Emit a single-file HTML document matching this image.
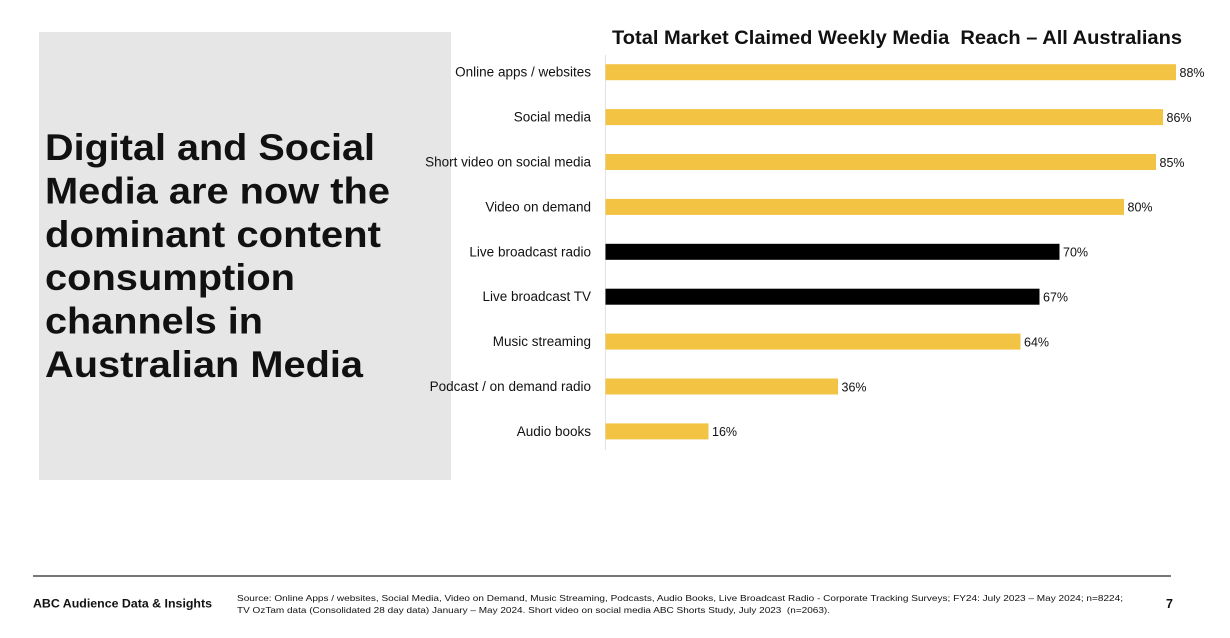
<!DOCTYPE html>
<html>
<head>
<meta charset="utf-8">
<style>
  html, body { margin: 0; padding: 0; background: #ffffff; }
  body { width: 1230px; height: 638px; overflow: hidden; }
  svg { display: block; }
  text { font-family: "Liberation Sans", Arial, sans-serif; fill: #111; }
</style>
</head>
<body>
<svg width="1230" height="638" viewBox="0 0 1230 638" xmlns="http://www.w3.org/2000/svg">
  <rect x="0" y="0" width="1230" height="638" fill="#ffffff"/>

  <!-- Left grey panel -->
  <rect x="39" y="32" width="412" height="448" fill="#e6e6e6"/>
  <g font-weight="bold" font-size="37">
    <text x="45" y="160" textLength="330" lengthAdjust="spacingAndGlyphs">Digital and Social</text>
    <text x="45" y="203.4" textLength="345" lengthAdjust="spacingAndGlyphs">Media are now the</text>
    <text x="45" y="246.8" textLength="336" lengthAdjust="spacingAndGlyphs">dominant content</text>
    <text x="45" y="290.2" textLength="250" lengthAdjust="spacingAndGlyphs">consumption</text>
    <text x="45" y="333.6" textLength="218" lengthAdjust="spacingAndGlyphs">channels in</text>
    <text x="45" y="377" textLength="318" lengthAdjust="spacingAndGlyphs">Australian Media</text>
  </g>

  <!-- Chart title -->
  <text x="612" y="44" font-size="19.5" font-weight="bold" textLength="570" lengthAdjust="spacingAndGlyphs">Total Market Claimed Weekly Media&#160; Reach – All Australians</text>

  <!-- Axis line -->
  <line x1="605.5" y1="55" x2="605.5" y2="450" stroke="#e2e2e2" stroke-width="1"/>

  <!-- Bars -->
  <g>
    <rect x="605.5" y="64.2" width="570.5" height="16" fill="#f3c343"/>
    <rect x="605.5" y="109.1" width="557.5" height="16" fill="#f3c343"/>
    <rect x="605.5" y="154.0" width="550.5" height="16" fill="#f3c343"/>
    <rect x="605.5" y="198.9" width="518.5" height="16" fill="#f3c343"/>
    <rect x="605.5" y="243.8" width="454" height="16" fill="#000000"/>
    <rect x="605.5" y="288.7" width="434" height="16" fill="#000000"/>
    <rect x="605.5" y="333.6" width="415" height="16" fill="#f3c343"/>
    <rect x="605.5" y="378.5" width="232.5" height="16" fill="#f3c343"/>
    <rect x="605.5" y="423.4" width="103" height="16" fill="#f3c343"/>
  </g>

  <!-- Category labels -->
  <g font-size="13.5" text-anchor="end" fill="#111">
    <text x="591" y="76.7">Online apps / websites</text>
    <text x="591" y="121.6">Social media</text>
    <text x="591" y="166.5">Short video on social media</text>
    <text x="591" y="211.4">Video on demand</text>
    <text x="591" y="256.3">Live broadcast radio</text>
    <text x="591" y="301.2">Live broadcast TV</text>
    <text x="591" y="346.1">Music streaming</text>
    <text x="591" y="391.0">Podcast / on demand radio</text>
    <text x="591" y="435.9">Audio books</text>
  </g>

  <!-- Value labels -->
  <g font-size="12.5">
    <text x="1179.5" y="77">88%</text>
    <text x="1166.5" y="121.9">86%</text>
    <text x="1159.5" y="166.8">85%</text>
    <text x="1127.5" y="211.7">80%</text>
    <text x="1063" y="256.6">70%</text>
    <text x="1043" y="301.5">67%</text>
    <text x="1024" y="346.4">64%</text>
    <text x="841.5" y="391.3">36%</text>
    <text x="712" y="436.2">16%</text>
  </g>

  <!-- Footer -->
  <line x1="33" y1="576" x2="1171" y2="576" stroke="#4a4a4a" stroke-width="1.5"/>
  <text x="33" y="607.5" font-size="12.3" font-weight="bold" textLength="179" lengthAdjust="spacingAndGlyphs">ABC Audience Data &amp; Insights</text>
  <g font-size="8.6" fill="#222">
    <text x="237" y="601" textLength="886" lengthAdjust="spacingAndGlyphs">Source: Online Apps / websites, Social Media, Video on Demand, Music Streaming, Podcasts, Audio Books, Live Broadcast Radio - Corporate Tracking Surveys; FY24: July 2023 – May 2024; n=8224;</text>
    <text x="237" y="613" textLength="593" lengthAdjust="spacingAndGlyphs">TV OzTam data (Consolidated 28 day data) January – May 2024. Short video on social media ABC Shorts Study, July 2023&#160; (n=2063).</text>
  </g>
  <text x="1166" y="608" font-size="12.5" font-weight="bold">7</text>
</svg>
</body>
</html>
